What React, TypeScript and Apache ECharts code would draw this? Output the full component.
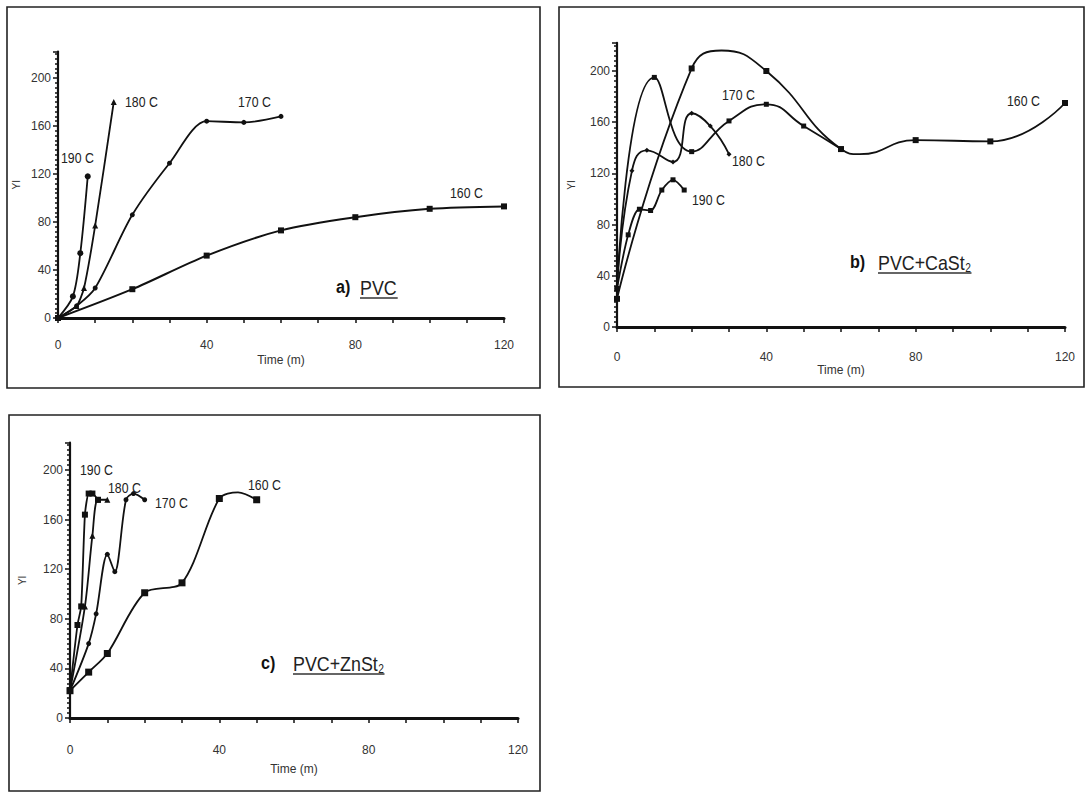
import React, { useEffect, useRef } from 'react';
import * as echarts from 'echarts';

const FONT = '"Liberation Sans", Arial, sans-serif';

type Pt = number[] | { value: number[]; symbol: string };
const peak = (x: number, y: number) => ({ value: [x, y], symbol: 'none' });

// ---- Panel a) PVC : [time (m), YI]
const a160: Pt[] = [[0, 0], [20, 24], [40, 52], [60, 73], [80, 84], [100, 91], [120, 93]];
const a170: Pt[] = [[0, 0], [5, 10], [10, 25], [20, 86], [30, 129], [40, 164], [50, 163], [60, 168]];
const a180: Pt[] = [[0, 0], [5, 10], [7, 25], [10, 77], [15, 180]];
const a190: Pt[] = [[0, 0], [4, 18], [6, 54], [8, 118]];

// ---- Panel b) PVC+CaSt2 (unmarked points = turning points of the drawn curve)
const b160: Pt[] = [[0, 22], [20, 202], peak(28, 216), [40, 200], [60, 139], peak(65, 135), [80, 146], [100, 145], [120, 175]];
const b170: Pt[] = [[0, 30], [10, 195], [20, 137], [30, 161], [40, 174], [50, 157], [60, 139]];
const b180: Pt[] = [[0, 30], [4, 122], [8, 138], [15, 129], [20, 167], [25, 157], [30, 135]];
const b190: Pt[] = [[0, 30], [3, 72], [6, 92], [9, 91], [12, 107], [15, 115], [18, 107]];

// ---- Panel c) PVC+ZnSt2
const c160: Pt[] = [[0, 22], [5, 37], [10, 52], [20, 101], [30, 109], [40, 177], peak(45, 182), [50, 176]];
const c170: Pt[] = [[0, 22], [5, 60], [7, 84], [10, 132], [12, 118], [15, 176], [17, 181], [20, 176]];
const c180: Pt[] = [[0, 22], [4, 90], [6, 147], [7.5, 176], [10, 176]];
const c190: Pt[] = [[0, 22], [2, 75], [3, 90], [4, 164], [5, 181], [6, 181], [7.5, 176]];

const curveNames = ['160 C', '170 C', '180 C', '190 C'];
const xTickLabels = [0, 40, 80, 120];
const yTickLabels = [0, 40, 80, 120, 160, 200];

const W = 1089;
const H = 793;
const NARROW = 0.82;

function measure(t: string, size: number, weight = 'normal') {
  const c = document.createElement('canvas').getContext('2d') as CanvasRenderingContext2D;
  c.font = `${weight} ${size}px ${FONT}`;
  return c.measureText(t).width;
}

export default function App() {
  const ref = useRef<HTMLDivElement>(null);
  useEffect(() => {
    if (!ref.current) return;
    const chart = echarts.init(ref.current, undefined, { renderer: 'svg' });

    const grids = [
      { left: 58, right: W - 504, top: 318 - 222 * 1.2, bottom: H - 318 },
      { left: 617, right: W - 1065, top: 327 - 222 * 1.28, bottom: H - 327 },
      { left: 70, right: W - 518, top: 718 - 222 * 1.24, bottom: H - 718 },
    ];
    const xLabelMargin = [21, 24, 26];
    const xNameGap = [36, 35, 45];
    const yNameGap = [37, 41, 43];

    const xAxes = grids.map((_, i) => ({
      type: 'value',
      gridIndex: i,
      min: 0,
      max: 120,
      interval: 10,
      name: 'Time (m)',
      nameLocation: 'middle',
      nameGap: xNameGap[i],
      nameTextStyle: { fontFamily: FONT, fontSize: 12, color: '#333' },
      axisLine: { show: true, lineStyle: { color: '#111', width: 3 } },
      axisTick: { show: true, length: 5, lineStyle: { color: '#111', width: 1.5 } },
      axisLabel: {
        margin: xLabelMargin[i],
        fontFamily: FONT,
        fontSize: 12,
        color: '#333',
        formatter: (v: number) => (xTickLabels.includes(v) ? String(v) : ''),
      },
      splitLine: { show: false },
    }));

    const yAxes = grids.map((_, i) => ({
      type: 'value',
      gridIndex: i,
      min: 0,
      max: 222,
      interval: 40,
      name: 'YI',
      nameLocation: 'middle',
      nameRotate: 90,
      nameGap: yNameGap[i],
      nameTextStyle: { fontFamily: FONT, fontSize: 10, color: '#333' },
      axisLine: { show: true, lineStyle: { color: '#111', width: 2.2 } },
      axisTick: { show: true, length: 5, lineStyle: { color: '#111', width: 1.5 } },
      minorTick: { show: true, splitNumber: 10, length: 3, lineStyle: { color: '#111', width: 1.5 } },
      axisLabel: {
        margin: 7,
        fontFamily: FONT,
        fontSize: 12,
        color: '#333',
        formatter: (v: number) => (yTickLabels.includes(v) ? String(v) : ''),
      },
      splitLine: { show: false },
      minorSplitLine: { show: false },
    }));

    const mk = (name: string, data: Pt[], gi: number, symbol: string, size: number, smooth: number, width = 1.8) => ({
      type: 'line',
      name,
      xAxisIndex: gi,
      yAxisIndex: gi,
      data,
      symbol,
      symbolSize: size,
      showSymbol: true,
      smooth,
      lineStyle: { color: '#111', width },
      itemStyle: { color: '#111' },
      z: 3,
    });

    const series = [
      mk(curveNames[0], a160, 0, 'rect', 6, 0.3, 2),
      mk(curveNames[1], a170, 0, 'circle', 5, 0.3),
      mk(curveNames[2], a180, 0, 'triangle', 6, 0.2),
      mk(curveNames[3], a190, 0, 'circle', 6, 0.3),
      mk(curveNames[0], b160, 1, 'rect', 6, 0.5),
      mk(curveNames[1], b170, 1, 'rect', 5, 0.5),
      mk(curveNames[2], b180, 1, 'diamond', 5, 0.5),
      mk(curveNames[3], b190, 1, 'rect', 5, 0.3),
      mk(curveNames[0], c160, 2, 'rect', 7, 0.3),
      mk(curveNames[1], c170, 2, 'circle', 5, 0.3),
      mk(curveNames[2], c180, 2, 'triangle', 6, 0.3),
      mk(curveNames[3], c190, 2, 'rect', 6, 0.2),
    ];

    const lbl = (text: string, x: number, y: number, size = 15) => ({
      type: 'text',
      x,
      y,
      scaleX: NARROW,
      style: { text, font: `${size}px ${FONT}`, fill: '#222', textAlign: 'left', textVerticalAlign: 'middle' },
      z: 10,
    });

    const title = (prefix: string, main: string, sub: string, x0: number, x1: number, y: number) => {
      const size = 21;
      const sx = 0.85;
      const wMain = measure(main, size) * sx;
      const wSub = sub ? measure(sub, 12) * sx : 0;
      const els: any[] = [
        { type: 'text', x: x0, y, scaleX: sx, style: { text: prefix, font: `bold 19px ${FONT}`, fill: '#111', textAlign: 'left', textVerticalAlign: 'middle' }, z: 10 },
        { type: 'text', x: x1, y, scaleX: sx, style: { text: main, font: `${size}px ${FONT}`, fill: '#222', textAlign: 'left', textVerticalAlign: 'middle' }, z: 10 },
        { type: 'line', shape: { x1: x1, y1: y + 11, x2: x1 + wMain + wSub + 1, y2: y + 11 }, style: { stroke: '#333', lineWidth: 1.3 }, z: 10 },
      ];
      if (sub) {
        els.push({ type: 'text', x: x1 + wMain + 0.5, y: y + 6, scaleX: sx, style: { text: sub, font: `12px ${FONT}`, fill: '#222', textAlign: 'left', textVerticalAlign: 'middle' }, z: 10 });
      }
      return els;
    };

    const box = (x: number, y: number, w: number, h: number) => ({
      type: 'rect',
      shape: { x, y, width: w, height: h },
      style: { fill: 'none', stroke: '#222', lineWidth: 1.6 },
      z: 0,
    });

    const graphic = [
      box(7, 7, 533, 381),
      box(559, 7, 525, 380),
      box(9, 415, 531, 376),
      // panel a labels
      lbl('190 C', 61, 158),
      lbl('180 C', 125, 102),
      lbl('170 C', 238, 102),
      lbl('160 C', 450, 193),
      ...title('a)', 'PVC', '', 336, 360, 287),
      // panel b labels
      lbl('170 C', 722, 95),
      lbl('160 C', 1007, 101),
      lbl('180 C', 732, 161),
      lbl('190 C', 692, 200),
      ...title('b)', 'PVC+CaSt', '2', 850, 878, 262),
      // panel c labels
      lbl('190 C', 80, 470),
      lbl('180 C', 108, 488),
      lbl('170 C', 155, 503),
      lbl('160 C', 248, 485),
      ...title('c)', 'PVC+ZnSt', '2', 261, 293, 663),
    ];

    chart.setOption({
      animation: false,
      backgroundColor: '#fff',
      grid: grids,
      xAxis: xAxes,
      yAxis: yAxes,
      series,
      graphic,
    });
    return () => chart.dispose();
  }, []);

  return <div ref={ref} style={{ position: 'absolute', left: 0, top: 0, width: W, height: H, background: '#fff' }} />;
}
